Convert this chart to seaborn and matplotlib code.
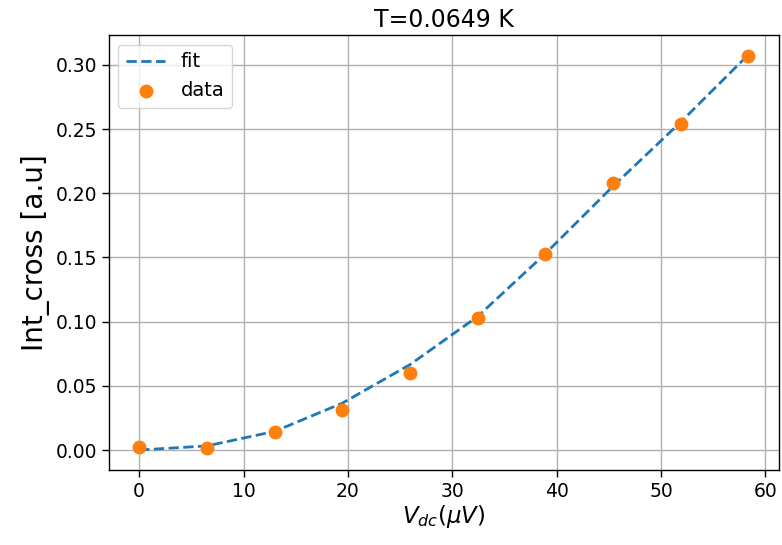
import matplotlib
matplotlib.use("Agg")
import matplotlib.pyplot as plt
import seaborn as sns
import numpy as np

# Bias voltage (µV) and integrated cross-correlation (a.u.)
v_dc = [0.0, 6.49, 12.97, 19.46, 25.94, 32.43, 38.92, 45.40, 51.89, 58.37]
int_cross = [0.0025, 0.0018, 0.014, 0.031, 0.060, 0.103, 0.153, 0.208, 0.254, 0.307]
fit_vals = [0.0, 0.0032, 0.0145, 0.0365, 0.0665, 0.104, 0.153, 0.2055, 0.2555, 0.308]

temperature = "T=0.0649 K"

sns.set_style("ticks")
plt.rcParams["font.family"] = ["DejaVu Sans"]
plt.rcParams.update({
    "text.color": "black",
    "axes.labelcolor": "black",
    "xtick.color": "black",
    "ytick.color": "black",
    "axes.edgecolor": "black",
})

fig, ax = plt.subplots(figsize=(7.82, 5.45), dpi=100)
fig.subplots_adjust(left=0.139, right=0.996, top=0.936, bottom=0.138)

sns.lineplot(x=v_dc, y=fit_vals, ax=ax, color="tab:blue", linestyle="--",
             linewidth=2, label="fit")
sns.scatterplot(x=v_dc, y=int_cross, ax=ax, color="tab:orange", s=100,
                linewidth=0, label="data", zorder=3)

ax.grid(True, color="#b0b0b0", linewidth=1)
ax.set_axisbelow(True)
for sp in ax.spines.values():
    sp.set_color("black")
    sp.set_linewidth(1)

ax.set_xlabel(r"$V_{dc}(\mu V)$", fontsize=16.5, labelpad=2)
ax.set_ylabel("Int_cross [a.u]", fontsize=20)
ax.set_title(temperature, fontsize=17, pad=6)
ax.tick_params(labelsize=13.5, direction="out", length=5, width=1, color="black")
ax.legend(loc="upper left", fontsize=14, frameon=True)

fig.savefig("out.png", dpi=100)
